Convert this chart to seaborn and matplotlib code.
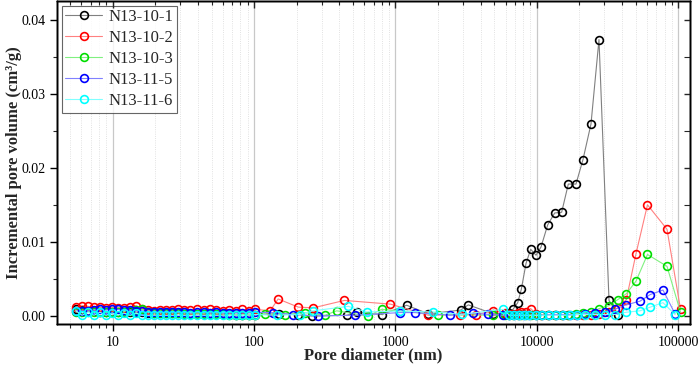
import matplotlib
matplotlib.use("Agg")
import matplotlib.pyplot as plt
import seaborn as sns
import pandas as pd
from matplotlib.ticker import LogLocator, NullFormatter, MultipleLocator, FuncFormatter, FormatStrFormatter

# ---------------- data ----------------
labels = ["N13-10-1", "N13-10-2", "N13-10-3", "N13-11-5", "N13-11-6"]

# shared dense low-diameter grid (nm)
d_low = [5.50, 6.07, 6.69, 7.38, 8.13, 8.97, 9.89, 10.9, 12.0, 13.3, 14.6, 16.1, 17.8, 19.6, 21.6,
         23.8, 26.3, 29.0, 31.9, 35.5, 39.5, 43.9, 48.8, 54.2, 60.3, 67.0, 74.5, 82.8, 92.0, 102.3]
# high-diameter grids (nm)
d_high_a = [5950, 6350, 6780, 7320, 7760, 8380, 9040, 9860, 10690, 11930, 13360, 14970, 16680,
            18900, 21180, 24130, 27490, 32360, 37270, 42880, 50220, 60550, 83210, 103700]
d_high_b = [5790, 6380, 6920, 7510, 8140, 8840, 9810, 10810, 12180, 13650, 15370, 17140, 19310,
            21890, 25760, 30310, 35670, 42670, 53590, 63390, 77950, 94770]
# N13-10-1 high-range grid (series ends after its peak)
d_high_1 = [5950, 6350, 6780, 7320, 7760, 8380, 9040, 9860, 10690, 11930, 13360, 14970, 16680,
            18900, 21180, 24130, 27490, 32360, 37270]

# N13-10-1
low_1 = [0.0009, 0.0008, 0.0007, 0.0007, 0.0006, 0.0006, 0.0006, 0.0005, 0.0005, 0.0005, 0.0005,
         0.0005, 0.0004, 0.0004, 0.0004, 0.0004, 0.0004, 0.0004, 0.0003, 0.0003, 0.0003, 0.0003,
         0.0003, 0.0003, 0.0003, 0.0003, 0.0002, 0.0002, 0.0002, 0.0002]
mid_x1 = [150, 205, 255, 452, 532, 800, 1200, 1706, 2891, 3273, 4917]
mid_y1 = [0.0003, 0.0002, 0.0000, 0.0001, 0.0005, 0.0002, 0.00145, 0.0003, 0.0008, 0.0015, 0.0003]
high_1 = [0.0003, 0.0004, 0.0009, 0.0018, 0.0036, 0.0071, 0.0090, 0.0082, 0.0093, 0.0123, 0.0139,
          0.0140, 0.0178, 0.0178, 0.0211, 0.0259, 0.0373, 0.0021, 0.0002]

# N13-10-2
low_2 = [0.0012, 0.0014, 0.0013, 0.0012, 0.0012, 0.0011, 0.0012, 0.0011, 0.0011, 0.0012, 0.0014,
         0.0010, 0.0008, 0.0007, 0.0008, 0.0008, 0.0008, 0.0009, 0.0008, 0.0008, 0.0009, 0.0008,
         0.0009, 0.0008, 0.0007, 0.0008, 0.0007, 0.0009, 0.0007, 0.0009]
mid_x2 = [130, 148, 205, 262, 435, 922, 1706, 2858, 3700, 4917]
mid_y2 = [0.0007, 0.0023, 0.0012, 0.0011, 0.0021, 0.0016, 0.0001, 0.0002, 0.0002, 0.0007]
high_2 = [0.0004, 0.0003, 0.0003, 0.0004, 0.0005, 0.0006, 0.0010, 0.0003, 0.0002, 0.0001, 0.0001,
          0.0002, 0.0001, 0.0002, 0.0002, 0.0001, 0.0003, 0.0005, 0.0011, 0.0022, 0.0084, 0.0150,
          0.0117, 0.0009]

# N13-10-3
low_3 = [0.0006, 0.0006, 0.0006, 0.0005, 0.0005, 0.0005, 0.0005, 0.0006, 0.0006, 0.0007, 0.0008,
         0.0009, 0.0006, 0.0004, 0.0004, 0.0004, 0.0004, 0.0004, 0.0003, 0.0003, 0.0003, 0.0003,
         0.0003, 0.0003, 0.0003, 0.0002, 0.0002, 0.0002, 0.0002, 0.0002]
mid_x3 = [120, 165, 229, 317, 384, 642, 799, 2008, 4917]
mid_y3 = [0.0003, 0.0002, 0.00045, 0.0001, 0.0007, 0.0000, 0.0009, 0.0002, 0.0001]
high_3 = [0.0001, 0.0001, 0.0001, 0.0001, 0.0001, 0.0001, 0.0001, 0.0001, 0.0001, 0.0001, 0.0002,
          0.0002, 0.0002, 0.0003, 0.0004, 0.0005, 0.0010, 0.0014, 0.0022, 0.0030, 0.0047, 0.0083,
          0.0067, 0.0005]

# N13-11-5
low_4 = [0.0007, 0.0007, 0.0007, 0.0008, 0.0009, 0.0008, 0.0009, 0.0009, 0.0008, 0.0008, 0.0007,
         0.0007, 0.0006, 0.0005, 0.0005, 0.0005, 0.0005, 0.0005, 0.0005, 0.0004, 0.0005, 0.0005,
         0.0004, 0.0005, 0.0004, 0.0004, 0.0004, 0.0004, 0.0004, 0.0005]
mid_x4 = [136, 188, 283, 517, 1076, 1374, 2429, 3549, 4487]
mid_y4 = [0.00045, 0.0002, 0.0000, 0.0001, 0.00046, 0.00046, 0.0001, 0.00036, 0.00023]
high_4 = [0.0001, 0.0001, 0.0001, 0.0001, 0.0001, 0.0001, 0.0001, 0.0001, 0.0002, 0.0002, 0.0002,
          0.0002, 0.0002, 0.0003, 0.0004, 0.0006, 0.0009, 0.0015, 0.0020, 0.0029, 0.0035, 0.0003]

# N13-11-6
low_5 = [0.0007, 0.0001, 0.0005, 0.0001, 0.0005, 0.0001, 0.0004, 0.0001, 0.0004, 0.0001, 0.0004,
         0.0001, 0.0001, 0.0001, 0.0001, 0.0001, 0.0001, 0.0001, 0.0001, 0.0001, 0.0001, 0.0001,
         0.0001, 0.0001, 0.0001, 0.0001, 0.0001, 0.0001, 0.0001, 0.0002]
mid_x5 = [145, 210, 261, 464, 626, 1076, 1851, 2939]
mid_y5 = [0.0001, 0.0002, 0.0007, 0.0013, 0.00054, 0.00067, 0.00054, 0.00023]
high_5 = [0.0009, 0.0001, 0.0001, 0.0001, 0.0001, 0.0001, 0.0001, 0.0001, 0.0001, 0.0001, 0.0001,
          0.0001, 0.0002, 0.0002, 0.0002, 0.0002, 0.0002, 0.0005, 0.0007, 0.0012, 0.0018, 0.0002]

x_ticks = [10, 100, 1000, 10000, 100000]
y_ticks = [0.00, 0.01, 0.02, 0.03, 0.04]

series = [
    (labels[0], d_low + mid_x1 + d_high_1, low_1 + mid_y1 + high_1),
    (labels[1], d_low + mid_x2 + d_high_a, low_2 + mid_y2 + high_2),
    (labels[2], d_low + mid_x3 + d_high_a, low_3 + mid_y3 + high_3),
    (labels[3], d_low + mid_x4 + d_high_b, low_4 + mid_y4 + high_4),
    (labels[4], d_low + mid_x5 + d_high_b, low_5 + mid_y5 + high_5),
]

marker_colors = ["#000000", "#ff0000", "#00dd00", "#0000ff", "#00ffff"]
line_colors = ["#808080", "#ff8080", "#80f080", "#8080ff", "#80ffff"]

# ---------------- plot ----------------
sns.set_style("white")
plt.rcParams["font.family"] = ["Liberation Serif", "DejaVu Serif"]
plt.rcParams["axes.linewidth"] = 1.0

fig = plt.figure(figsize=(6.99, 3.76), dpi=100)
ax = fig.add_axes([57 / 699, 1 - 324 / 376, (690 - 57) / 699, 323 / 376])

for (lab, xs, ys), mc, lc in zip(series, marker_colors, line_colors):
    df = pd.DataFrame({"d": xs, "v": ys})
    sns.lineplot(data=df, x="d", y="v", ax=ax, color=lc, linewidth=0.8,
                 marker="o", markersize=5.6, markerfacecolor="none",
                 markeredgecolor=mc, markeredgewidth=1.2, label=lab)

ax.set_xscale("log")
ax.set_xlim(4.04, 121000)
ax.set_ylim(-0.00108, 0.0425)

ax.xaxis.set_major_locator(LogLocator(base=10, numticks=10))
ax.xaxis.set_minor_locator(LogLocator(base=10, subs=range(2, 10), numticks=20))
ax.xaxis.set_major_formatter(FuncFormatter(lambda v, p: f"{v:g}"))
ax.xaxis.set_minor_formatter(NullFormatter())
ax.set_xticks(x_ticks)
ax.set_yticks(y_ticks)
ax.yaxis.set_minor_locator(MultipleLocator(0.005))
ax.yaxis.set_major_formatter(FormatStrFormatter("%.2f"))

ax.grid(which="major", axis="x", color="#c8c8c8", linewidth=0.9)
ax.grid(which="minor", axis="x", color="#d8d8d8", linewidth=0.6, linestyle=":")
ax.set_axisbelow(True)

ax.tick_params(which="major", direction="out", length=5, width=1.0, labelsize=10, colors="black")
ax.tick_params(which="minor", direction="out", length=3, width=0.8)

# mirrored inward ticks on top and right
axt = ax.twiny()
axt.set_xscale("log")
axt.set_xlim(ax.get_xlim())
axt.set_xticks(x_ticks)
axt.xaxis.set_minor_locator(LogLocator(base=10, subs=range(2, 10), numticks=20))
axt.tick_params(which="major", direction="in", length=5, width=1.0, labeltop=False)
axt.tick_params(which="minor", direction="in", length=3, width=0.8)
axt.xaxis.set_minor_formatter(NullFormatter())
axr = ax.twinx()
axr.set_ylim(ax.get_ylim())
axr.set_yticks(y_ticks)
axr.yaxis.set_minor_locator(MultipleLocator(0.005))
axr.tick_params(which="major", direction="in", length=4, width=1.0, labelright=False)
axr.tick_params(which="minor", direction="in", length=4, width=0.8)

for a in (ax, axt, axr):
    for s in a.spines.values():
        s.set_color("black")
        s.set_linewidth(1.0)

ax.set_xlabel("Pore diameter (nm)", fontsize=12, fontweight="bold")
ax.set_ylabel("Incremental pore volume (cm³/g)", fontsize=12, fontweight="bold")
ax.xaxis.set_label_coords(0.5, -0.072)
ax.yaxis.set_label_coords(-0.056, 0.5)

leg = ax.legend(loc="upper left", fontsize=12, frameon=True, fancybox=False,
                edgecolor="#404040", handlelength=2.2, handletextpad=0.4,
                borderpad=0.2, labelspacing=0.3, borderaxespad=0.3)
leg.get_frame().set_linewidth(0.8)

fig.savefig("out.png", dpi=100)
